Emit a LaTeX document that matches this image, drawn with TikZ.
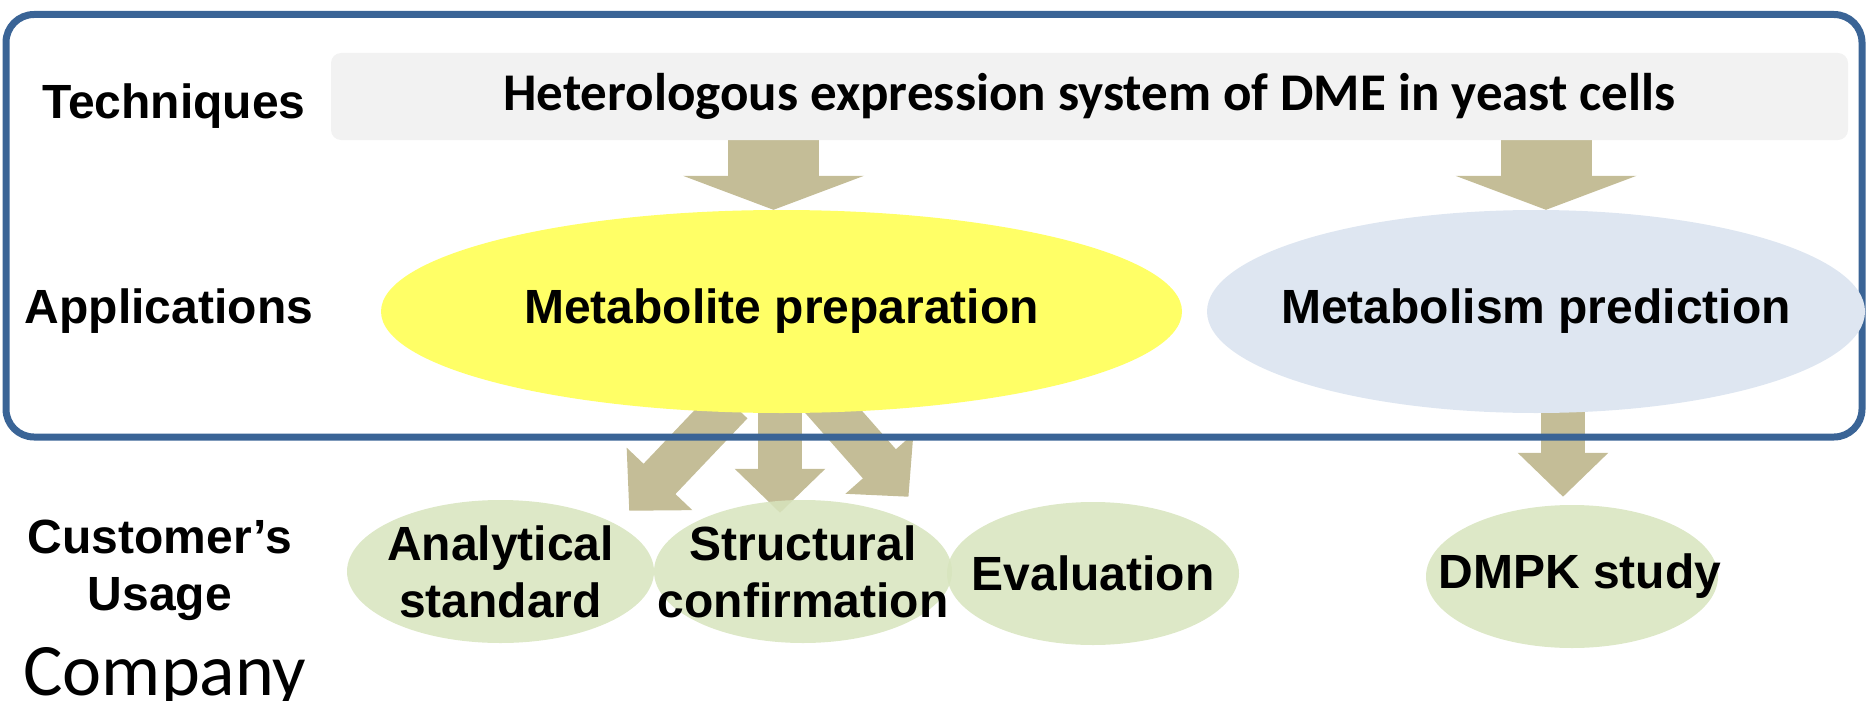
\documentclass[tikz,border=0pt]{standalone}
\usepackage{fontspec}
\setmainfont{Liberation Sans}
\newfontfamily\calibri{Carlito}
\usetikzlibrary{shapes.geometric,arrows.meta,positioning}

\definecolor{frameblue}{HTML}{3A6496}
\definecolor{techgray}{HTML}{F2F2F2}
\definecolor{arrowtan}{HTML}{C4BD97}
\definecolor{prepyellow}{HTML}{FFFF66}
\definecolor{predblue}{HTML}{DEE6F1}
\definecolor{usegreen}{HTML}{D7E4BD}

\pgfdeclarelayer{bg}
\pgfsetlayers{bg,main}

\begin{document}
\begin{tikzpicture}[x=1pt,y=-1pt,
    bigfont/.style={font=\fontsize{48}{57}\selectfont\bfseries},
    rowlabel/.style={bigfont, align=center, inner sep=0pt},
    inlabel/.style={bigfont, align=center, inner sep=0pt, text opacity=1},
    app/.style={ellipse, inner sep=0pt, minimum height=203pt},
    usage/.style={ellipse, inner sep=0pt, fill=usegreen, fill opacity=0.85, minimum height=143pt},
    flow/.style={arrowtan, line width=44pt, -{Triangle[width=88pt,length=44pt]}},
    bigflow/.style={arrowtan, line width=91pt, -{Triangle[width=180pt,length=34pt]}}
]
\useasboundingbox (0,0) rectangle (1868,701);

% frame round the upper two rows
\node[draw=frameblue, line width=7pt, rounded corners=28pt,
    minimum width=1856pt, minimum height=422.5pt, inner sep=0pt] (frame) at (934,225.75) {};

% techniques row
\node[fill=techgray, rounded corners=10pt, minimum width=1517pt, minimum height=87pt,
    font=\calibri\fontsize{53}{60}\selectfont\bfseries] (tech) at (1089.5,96.5)
    {Heterologous expression system of DME in yeast cells};
\node[rowlabel, anchor=base] (techlbl) at (174,118) {Techniques};

% applications row
\node[app, fill=prepyellow, minimum width=801pt,
    label={[inlabel]center:Metabolite preparation}] (prep) at (781.5,311.5) {};
\node[app, fill=predblue, minimum width=658pt,
    label={[inlabel]center:Metabolism prediction}] (pred) at (1536,311.5) {};
\node[rowlabel, anchor=base] (applbl) at (169,323) {Applications};

% customer's usage row
\node[usage, minimum width=307pt, label={[inlabel]center:Analytical\\standard}] (anal) at (500.5,571.5) {};
\node[usage, minimum width=298pt, label={[inlabel]center:Structural\\confirmation}] (struc) at (803,571.5) {};
\node[usage, minimum width=292pt, label={[inlabel]center:Evaluation}] (eval) at (1093,573.5) {};
\node[usage, minimum width=292pt, label={[inlabel, xshift=8pt]center:DMPK study}] (dmpk) at (1572,576.5) {};
\node[rowlabel, anchor=base] (uselbl) at (160,610) {Customer’s\\Usage};

\node[anchor=base, inner sep=0pt, font=\calibri\fontsize{74}{84}\selectfont] (company) at (165,695) {Company};

% block arrows
\begin{pgfonlayer}{bg}
\draw[bigflow] ([xshift=-8pt]tech.south -| prep.north) -- ([xshift=-8pt]prep.north);
\draw[bigflow] ([xshift=10pt]tech.south -| pred.north) -- ([xshift=10pt]pred.north);
\draw[flow] ([xshift=-50pt,yshift=10pt]prep.south) -- ([xshift=20pt,yshift=10pt]anal.north east);
\draw[flow] ([xshift=-1.5pt]prep.south) -- ([xshift=-1.5pt,yshift=-13pt]prep.south |- struc.north);
\draw[flow] ([xshift=40pt,yshift=15pt]prep.south) -- ([yshift=24pt]struc.north east);
\draw[flow] ([xshift=-9pt,yshift=12pt]dmpk.north |- pred.south) -- ([xshift=-9pt,yshift=8pt]dmpk.north);
\end{pgfonlayer}

\end{tikzpicture}
\end{document}
